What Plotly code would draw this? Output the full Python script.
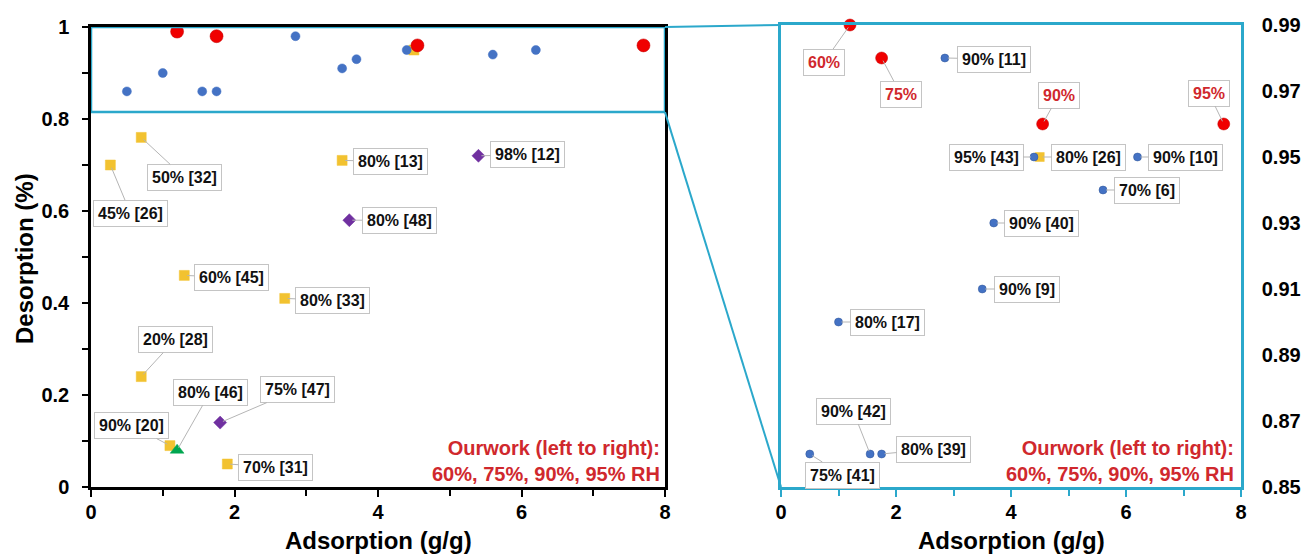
import plotly.graph_objects as go

# ---------------- data ----------------
blue_x = [0.5, 1.0, 1.55, 1.75, 2.85, 3.5, 3.7, 4.4, 5.6, 6.2]
blue_y = [0.86, 0.90, 0.86, 0.86, 0.98, 0.91, 0.93, 0.95, 0.94, 0.95]
blue_lbl = ['75% [41]', '80% [17]', '90% [42]', '80% [39]', '90% [11]',
            '90% [9]', '90% [40]', '95% [43]', '70% [6]', '90% [10]']

red_x = [1.2, 1.75, 4.55, 7.7]
red_y = [0.99, 0.98, 0.96, 0.96]
red_lbl = ['60%', '75%', '90%', '95%']

yellow_x = [0.27, 0.7, 0.7, 1.1, 1.3, 1.9, 2.7, 3.5, 4.5]
yellow_y = [0.70, 0.76, 0.24, 0.09, 0.46, 0.05, 0.41, 0.71, 0.95]
yellow_lbl = ['45% [26]', '50% [32]', '20% [28]', '90% [20]', '60% [45]',
              '70% [31]', '80% [33]', '80% [13]', '80% [26]']

purple_x = [1.8, 3.6, 5.4]
purple_y = [0.14, 0.58, 0.72]
purple_lbl = ['75% [47]', '80% [48]', '98% [12]']

green_x = [1.2]
green_y = [0.08]
green_lbl = ['80% [46]']

x_ticks = [0, 2, 4, 6, 8]
left_y_ticks = [0, 0.2, 0.4, 0.6, 0.8, 1]
left_y_text = ['0', '0.2', '0.4', '0.6', '0.8', '1']
right_y_ticks = [0.85, 0.87, 0.89, 0.91, 0.93, 0.95, 0.97, 0.99]
zoom_box = dict(x0=0, x1=8, y0=0.815, y1=1.0)
note_text = '<b>Ourwork (left to right):<br>60%, 75%, 90%, 95% RH</b>'
x_title = 'Adsorption (g/g)'
y_title = 'Desorption (%)'

# ---------------- styles / positions ----------------
W, H = 1304, 557
FONT = 'Arial, Liberation Sans, sans-serif'
BLUE = '#4472C4'
RED = '#F00000'
YELLOW = '#F2C230'
PURPLE = '#7030A0'
GREEN = '#00A650'
CYAN = '#2BA8CB'
LBLRED = '#D0282D'

L_X = (91 / W, 665 / W)
L_Y = ((H - 487) / H, (H - 27) / H)
R_X = (781 / W, 1241 / W)
R_Y = ((H - 487) / H, (H - 25) / H)
L_XR, L_YR = [0, 8], [0, 1]
R_XR, R_YR = [0, 8], [0.85, 0.99]

# label offsets (pixels: text-box centre relative to point)
left_off = {
    '45% [26]': (20, 48), '50% [32]': (43, 40), '20% [28]': (34, -37),
    '90% [20]': (-38, -20), '60% [45]': (47, 2), '70% [31]': (48, 3),
    '80% [33]': (48, 2), '80% [13]': (48, 1), '75% [47]': (77, -33),
    '80% [48]': (50, 0), '98% [12]': (49, -1), '80% [46]': (33, -58),
}
right_off = {
    '60%': (-26, 37), '75%': (19, 36), '90%': (16, -29), '95%': (-15, -31),
    '90% [11]': (49, 1), '95% [43]': (-48, 0), '80% [26]': (49, 0),
    '90% [10]': (48, 0), '70% [6]': (44, 0), '90% [40]': (48, 0),
    '90% [9]': (45, 0), '80% [17]': (49, 0), '90% [42]': (-17, -43),
    '80% [39]': (52, -5), '75% [41]': (33, 21),
}

fig = go.Figure()


def add_series(xs, ys, color, symbol, size, xa, ya, line_color=None):
    fig.add_trace(go.Scatter(
        x=xs, y=ys, mode='markers', xaxis=xa, yaxis=ya, cliponaxis=False,
        marker=dict(color=color, symbol=symbol, size=size,
                    line=dict(color=line_color or color, width=0.5)),
        showlegend=False, hoverinfo='x+y'))


# left panel
add_series(yellow_x, yellow_y, YELLOW, 'square', 10, 'x', 'y')
add_series(purple_x, purple_y, PURPLE, 'diamond', 10, 'x', 'y')
add_series(green_x, green_y, GREEN, 'triangle-up', 12, 'x', 'y')
add_series(blue_x, blue_y, BLUE, 'circle', 9, 'x', 'y')
add_series(red_x, red_y, RED, 'circle', 13, 'x', 'y', '#C00000')


# right panel (only points inside its range)
def in_right(xs, ys, lbls):
    out = [(a, b, c) for a, b, c in zip(xs, ys, lbls) if R_YR[0] <= b <= R_YR[1] + 1e-9]
    return [o[0] for o in out], [o[1] for o in out], [o[2] for o in out]


ry = in_right(yellow_x, yellow_y, yellow_lbl)
add_series(ry[0], ry[1], YELLOW, 'square', 9, 'x2', 'y2')
add_series(blue_x, blue_y, BLUE, 'circle', 8, 'x2', 'y2', '#2F5597')
add_series(red_x, red_y, RED, 'circle', 12, 'x2', 'y2', '#C00000')

annotations = []


def callout(x, y, text, off, xa, ya, color='#111111'):
    ax, ay = off
    annotations.append(dict(
        x=x, y=y, xref=xa, yref=ya, text='<b>%s</b>' % text,
        showarrow=True, arrowhead=0, arrowwidth=1, arrowcolor='#B5B5B5',
        ax=ax, ay=ay, standoff=3,
        font=dict(family=FONT, size=16, color=color),
        bgcolor='white', bordercolor='#C4C4C4', borderwidth=1, borderpad=4))


# left labels: points outside the zoom box
for xs, ys, lbls in [(yellow_x, yellow_y, yellow_lbl), (purple_x, purple_y, purple_lbl),
                     (green_x, green_y, green_lbl)]:
    for a, b, c in zip(xs, ys, lbls):
        if b < zoom_box['y0'] and c in left_off:
            callout(a, b, c, left_off[c], 'x', 'y')

# right labels
for xs, ys, lbls in [ry, (blue_x, blue_y, blue_lbl)]:
    for a, b, c in zip(xs, ys, lbls):
        if c in right_off:
            callout(a, b, c, right_off[c], 'x2', 'y2')
for a, b, c in zip(red_x, red_y, red_lbl):
    callout(a, b, c, right_off[c], 'x2', 'y2', LBLRED)

# "Ourwork" notes
for xa, ya, xx in [('x domain', 'y domain', 0.994), ('x2 domain', 'y2 domain', 0.99)]:
    annotations.append(dict(
        x=xx, y=0.0, xref=xa, yref=ya, xanchor='right', yanchor='bottom',
        text=note_text, showarrow=False, align='right',
        font=dict(family=FONT, size=20, color=LBLRED)))

# axis titles
for dom in (L_X, R_X):
    annotations.append(dict(x=(dom[0] + dom[1]) / 2, y=(H - 540) / H, xref='paper', yref='paper',
                            xanchor='center', yanchor='middle',
                            text='<b>%s</b>' % x_title, showarrow=False,
                            font=dict(family=FONT, size=24, color='black')))
annotations.append(dict(x=24 / W, y=(H - 259) / H, xref='paper', yref='paper',
                        xanchor='center', yanchor='middle',
                        text='<b>%s</b>' % y_title, showarrow=False, textangle=-90,
                        font=dict(family=FONT, size=24, color='black')))


# shapes: zoom box and connectors
def to_paper(v, rng, dom):
    return dom[0] + (v - rng[0]) / (rng[1] - rng[0]) * (dom[1] - dom[0])


shapes = [dict(type='rect', xref='x', yref='y', x0=zoom_box['x0'], x1=zoom_box['x1'],
               y0=zoom_box['y0'], y1=zoom_box['y1'], line=dict(color=CYAN, width=2.5))]
lx = to_paper(zoom_box['x1'], L_XR, L_X)
ly_top = to_paper(zoom_box['y1'], L_YR, L_Y)
ly_bot = to_paper(zoom_box['y0'], L_YR, L_Y)
rx = to_paper(R_XR[0], R_XR, R_X)
ry_top = to_paper(R_YR[1], R_YR, R_Y)
ry_bot = to_paper(R_YR[0], R_YR, R_Y)
shapes.append(dict(type='line', xref='paper', yref='paper', x0=lx, y0=ly_top, x1=rx, y1=ry_top,
                   line=dict(color=CYAN, width=2)))
shapes.append(dict(type='line', xref='paper', yref='paper', x0=lx, y0=ly_bot, x1=rx, y1=ry_bot,
                   line=dict(color=CYAN, width=2)))

tickfont = dict(family=FONT, size=20, color='black', weight='bold')

common = dict(showgrid=False, zeroline=False, automargin=False, tickfont=tickfont,
              showline=True, mirror=True, linewidth=2.5)

fig.update_layout(
    width=W, height=H, margin=dict(l=0, r=0, t=0, b=0),
    paper_bgcolor='white', plot_bgcolor='white', showlegend=False,
    font=dict(family=FONT),
    xaxis=dict(domain=list(L_X), range=L_XR, tickvals=x_ticks, ticks='outside', ticklen=7,
               tickwidth=2, tickcolor='black', linecolor='black', ticklabelstandoff=-2,
               minor=dict(dtick=1, ticks='outside', ticklen=6, tickwidth=2, tickcolor='black'),
               anchor='y', **common),
    yaxis=dict(domain=list(L_Y), range=L_YR, tickvals=left_y_ticks, ticktext=left_y_text,
               ticks='outside', ticklen=6, tickwidth=2, tickcolor='black', linecolor='black',
               ticklabelstandoff=9,
               minor=dict(dtick=0.1, ticks='outside', ticklen=6, tickwidth=2, tickcolor='black'),
               anchor='x', **common),
    xaxis2=dict(domain=list(R_X), range=R_XR, tickvals=x_ticks, ticks='outside', ticklen=7,
                tickwidth=2, tickcolor=CYAN, linecolor=CYAN, ticklabelstandoff=-2,
                minor=dict(dtick=1, ticks='outside', ticklen=6, tickwidth=2, tickcolor=CYAN),
                anchor='y2', **common),
    yaxis2=dict(domain=list(R_Y), range=R_YR, tickvals=right_y_ticks, tickformat='.2f',
                side='right', ticks='', ticklabelstandoff=14, linecolor=CYAN,
                anchor='x2', **common),
    annotations=annotations, shapes=shapes,
)

fig.write_html('out.html')
